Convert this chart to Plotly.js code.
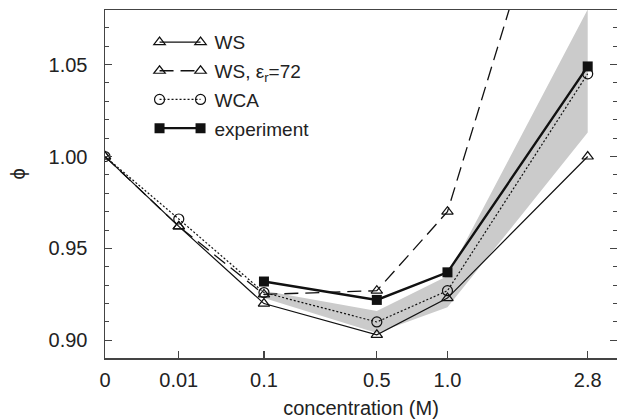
<!DOCTYPE html>
<html>
<head>
<meta charset="utf-8">
<script src="https://cdn.plot.ly/plotly-3.0.1.min.js"></script>
<style>html,body{margin:0;padding:0;background:#fff}#chart{width:617px;height:420px}</style>
</head>
<body>
<div id="chart"></div>
<script>
// Data (concentration in M; axis is drawn on a cube-root scale)
const concentration = [0, 0.01, 0.1, 0.5, 1.0, 2.8];
const tickLabels = ['0', '0.01', '0.1', '0.5', '1.0', '2.8'];
const phiWS = [1.000, 0.962, 0.920, 0.903, 0.923, 1.000];
const phiWS72 = [1.000, 0.962, 0.925, 0.927, 0.970, 1.220];
const phiWCA = [1.000, 0.966, 0.926, 0.910, 0.927, 1.045];
const phiExp = [null, null, 0.932, 0.922, 0.937, 1.049];
const bandConc = [0.1, 0.5, 1.0, 2.8];
const bandUpper = [0.927, 0.916, 0.935, 1.080];
const bandLower = [0.923, 0.904, 0.918, 1.013];

const xs = concentration.map(Math.cbrt);
const bx = bandConc.map(Math.cbrt);
const bandX = bx.concat(bx.slice().reverse());
const bandY = bandUpper.concat(bandLower.slice().reverse());

const traces = [
  {x: bandX, y: bandY, type: 'scatter', mode: 'lines', fill: 'toself',
   fillcolor: '#cbcbcb', line: {width: 0, color: 'rgba(0,0,0,0)'}, showlegend: false, hoverinfo: 'skip'},
  {x: xs, y: phiWS, name: 'WS', type: 'scatter', mode: 'lines+markers', legendgroup: 'a',
   line: {color: '#111', width: 1.2},
   marker: {symbol: 'triangle-up-open', size: 10, color: '#111', line: {width: 1.2}}},
  {x: xs, y: phiWS72, name: 'WS, ε<sub>r</sub>=72', type: 'scatter', mode: 'lines+markers', legendgroup: 'b',
   line: {color: '#111', width: 1.3, dash: '14px,7px'},
   marker: {symbol: 'triangle-up-open', size: 10, color: '#111', line: {width: 1.2}}},
  {x: xs, y: phiWCA, name: 'WCA', type: 'scatter', mode: 'lines+markers', legendgroup: 'c',
   line: {color: '#111', width: 1.2, dash: '2px,2px'},
   marker: {symbol: 'circle-open', size: 10, color: '#111', line: {width: 1.2}}},
  {x: xs, y: phiExp, name: 'experiment', type: 'scatter', mode: 'lines+markers', legendgroup: 'd',
   line: {color: '#111', width: 2.4},
   marker: {symbol: 'square', size: 10, color: '#111'}}
];

const FONT = 'Liberation Sans, Arial, Helvetica, sans-serif';
const axisFont = {family: FONT, size: 20, color: '#222'};

const layout = {
  width: 617, height: 420,
  margin: {l: 105, r: 0, t: 10, b: 62},
  paper_bgcolor: '#fff', plot_bgcolor: '#fff',
  font: {family: FONT, size: 19, color: '#222'},
  showlegend: true,
  legend: {x: 0.087, y: 0.962, xanchor: 'left', yanchor: 'top', bgcolor: 'rgba(0,0,0,0)',
           traceorder: 'grouped', tracegroupgap: 1, itemwidth: 55,
           font: {family: FONT, size: 19, color: '#222'}},
  xaxis: {
    range: [0, 1.495], tickvals: xs, ticktext: tickLabels,
    showgrid: false, zeroline: false, showline: true, linecolor: '#444', linewidth: 1.5,
    mirror: true, ticks: 'inside', ticklen: 7, tickwidth: 1.2, tickcolor: '#444',
    tickfont: axisFont, ticklabelstandoff: 3,
    title: {text: 'concentration (M)', font: axisFont, standoff: 11}
  },
  yaxis: {
    range: [0.8904, 1.0797], dtick: 0.05, tick0: 0.9, tickformat: '.2f',
    showgrid: false, zeroline: false, showline: true, linecolor: '#444', linewidth: 1.5,
    mirror: 'ticks', ticks: 'inside', ticklen: 7, tickwidth: 1.2, tickcolor: '#444',
    minor: {dtick: 0.01, ticks: 'inside', ticklen: 4, tickwidth: 1, tickcolor: '#444', showgrid: false},
    tickfont: axisFont, ticklabelstandoff: 12
  },
  annotations: [{
    text: 'ϕ', xref: 'paper', yref: 'paper', x: -0.17, y: 0.53,
    xanchor: 'center', yanchor: 'middle', textangle: -90, showarrow: false,
    font: {family: FONT, size: 20, color: '#222'}
  }]
};

Plotly.newPlot('chart', traces, layout, {displayModeBar: false, staticPlot: true}).then(function (gd) {
  // legend samples: shorter line with a marker at both ends, as in the reference
  gd.querySelectorAll('.legend .traces').forEach(function (tr) {
    const linePath = tr.querySelector('.legendlines path');
    const pts = tr.querySelectorAll('.legendpoints path.scatterpts');
    if (!linePath || !pts.length) return;
    const m = /M([\d.\-]+),([\d.\-]+)h([\d.\-]+)/.exec(linePath.getAttribute('d') || '');
    if (!m) return;
    const x0 = parseFloat(m[1]) + 5, y0 = parseFloat(m[2]);
    const len = 41;
    linePath.setAttribute('d', 'M' + x0 + ',' + y0 + 'h' + len);
    const p = pts[0];
    const clone = p.cloneNode(true);
    p.setAttribute('transform', 'translate(' + x0 + ',' + y0 + ')');
    clone.setAttribute('transform', 'translate(' + (x0 + len) + ',' + y0 + ')');
    p.parentNode.appendChild(clone);
  });
});
</script>
</body>
</html>
